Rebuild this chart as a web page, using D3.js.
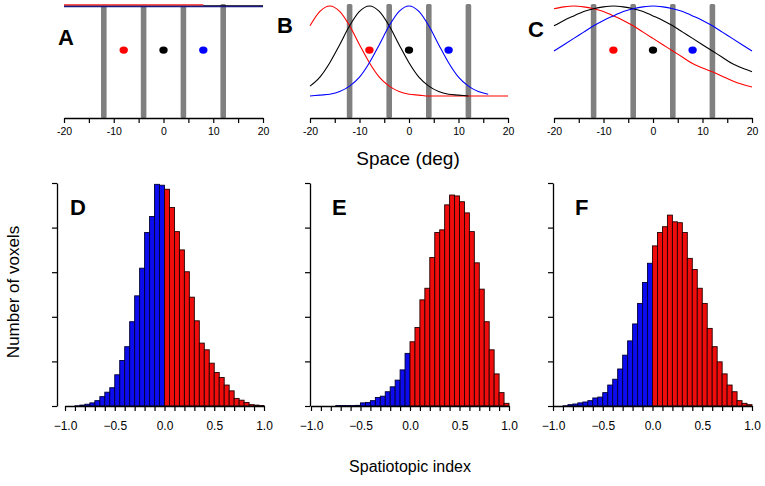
<!DOCTYPE html>
<html><head><meta charset="utf-8">
<script src="https://cdn.jsdelivr.net/npm/d3@7"></script>
<style>body{margin:0;background:#fff}svg{display:block}text{font-family:Arial,"Liberation Sans",sans-serif}</style>
</head><body>
<script>
// ---- data ----
const deg = [-20,-18,-16,-14,-12,-10,-8,-6,-4,-2,0,2,4,6,8,10,12,14,16,18,20];
const redA   = [1.012,1.012,1.012,1.012,1.012,1.012,1.012,1.012,1.012,1.012,1.012,1.012,1.012,1.012,1.012,null,null,null,null,null,null];
const blackA = [1,1,1,1,1,1,1,1,1,1,1,1,1,1,1,1,1,1,1,1,1];
const blueA  = [0.995,0.995,0.995,0.995,0.995,0.995,0.995,0.995,0.995,0.995,0.995,0.995,0.995,0.995,0.995,0.995,0.995,0.995,0.995,0.995,0.995];
const redB   = [0.78,0.94,1,0.94,0.78,0.57,0.37,0.21,0.11,0.05,0.02,0.01,0,0,0,0,0,0,0,0,0];
const blackB = [0.11,0.21,0.37,0.57,0.78,0.94,1,0.94,0.78,0.57,0.37,0.21,0.11,0.05,0.02,0.01,0,null,null,null,null];
const blueB  = [0,0.01,0.02,0.05,0.11,0.21,0.37,0.57,0.78,0.94,1,0.94,0.78,0.57,0.37,0.21,0.11,0.05,0.02,null,null];
const redC   = [0.97,0.99,1,0.99,0.97,0.94,0.89,0.84,0.78,0.71,0.64,0.57,0.50,0.43,0.36,0.31,0.27,0.22,0.17,0.13,0.10];
const blackC = [0.78,0.84,0.89,0.94,0.97,0.99,1,0.99,0.97,0.94,0.89,0.84,0.78,0.71,0.64,0.57,0.50,0.43,0.36,0.31,0.27];
const blueC  = [0.50,0.57,0.64,0.71,0.78,0.84,0.89,0.94,0.97,0.99,1,0.99,0.97,0.94,0.89,0.84,0.78,0.71,0.64,0.57,0.50];
const stimDeg = [-12,-4,4,12];
const dotDeg = [-8,0,8];
const dotLevel = 0.51;
const dotColors = ["#ff0000","#000000","#0000ff"];
const degTicks = [-20,-15,-10,-5,0,5,10,15,20];
const degLabels = [-20,-10,0,10,20];

const binEdges = d3.range(0,41).map(i => +(-1 + i*0.05).toFixed(2));
const histD = [0,0,0.005,0.02,0.04,0.07,0.12,0.21,0.31,0.41,0.70,1.02,1.33,1.89,2.47,3.09,3.89,4.25,4.97,4.95,
               4.86,4.45,3.91,3.50,3.01,2.44,1.91,1.41,1.26,0.96,0.75,0.64,0.47,0.34,0.17,0.13,0.08,0.03,0.02,0.01];
const histE = [0,0,0,0,0,0.01,0.01,0.01,0.01,0.015,0.07,0.08,0.12,0.19,0.22,0.32,0.43,0.58,0.81,1.18,
               1.44,1.76,2.38,2.64,3.33,3.89,3.95,4.51,4.73,4.71,4.58,4.33,3.91,3.21,2.62,1.89,1.26,0.72,0.30,0.06];
const histF = [0,0,0.005,0.03,0.045,0.07,0.09,0.12,0.18,0.20,0.30,0.47,0.60,0.83,1.14,1.46,1.84,2.30,2.77,3.20,
               3.59,3.89,4.02,4.28,4.13,4.11,3.89,3.31,3.06,2.64,2.30,1.74,1.33,0.99,0.72,0.47,0.32,0.12,0.06,0.03];
const idxTicks = d3.range(0,21).map(i => +(-1 + i*0.1).toFixed(1));
const idxLabels = [-1.0,-0.5,0.0,0.5,1.0];
const countTicks = [0,1,2,3,4,5];

// ---- drawing ----
const svg = d3.select("body").append("svg").attr("width",765).attr("height",486);
const FONT = 'Arial,"Liberation Sans",sans-serif';

const yCurve = d3.scaleLinear().domain([0,1]).range([96,6]);
const topAxisY = 118;

function topPanel(x0, x1, series, letter, lx, ly) {
  const x = d3.scaleLinear().domain([-20,20]).range([x0,x1]);
  const g = svg.append("g");
  g.selectAll("rect.stim").data(stimDeg).enter().append("rect")
    .attr("x", d => x(d)-2.8).attr("width",5.6)
    .attr("y",4).attr("height", topAxisY-4)
    .attr("rx",1.5).attr("fill","#808080");
  series.forEach(s => {
    const line = d3.line()
      .defined(d => d[1] !== null)
      .x(d => x(d[0])).y(d => yCurve(d[1]))
      .curve(d3.curveMonotoneX);
    g.append("path").datum(deg.map((d,i)=>[d,s.v[i]]))
      .attr("d",line).attr("fill","none").attr("stroke",s.c).attr("stroke-width",s.w||1.1);
  });
  g.selectAll("ellipse").data(dotDeg).enter().append("ellipse")
    .attr("cx", d => x(d)).attr("cy", yCurve(dotLevel))
    .attr("rx",4.2).attr("ry",3.6).attr("fill",(d,i)=>dotColors[i]);
  const ax = d3.axisBottom(x).tickValues(degTicks).tickSize(5).tickSizeOuter(0).tickPadding(5)
    .tickFormat(d => degLabels.includes(d) ? d : "");
  const ag = g.append("g").attr("transform",`translate(0,${topAxisY})`).call(ax);
  ag.select(".domain").attr("stroke","#000").attr("stroke-width",1.3);
  ag.selectAll(".tick line").attr("stroke","#000").attr("stroke-width",1.2);
  ag.selectAll("text").attr("font-size",10.5).attr("font-family",FONT).attr("fill","#000");
  g.append("text").attr("x",lx).attr("y",ly).text(letter)
    .attr("font-size",22).attr("font-weight","bold").attr("font-family",FONT);
}

topPanel(64,263,[
  {v:blackA,c:"#000",w:1.6},{v:redA,c:"#ff5050",w:1.6},{v:blueA,c:"#1a1a80",w:1.6}
],"A",58,45);
topPanel(310,508,[
  {v:redB,c:"#ff0000"},{v:blackB,c:"#000"},{v:blueB,c:"#0000ff"}
],"B",277,33);
topPanel(554,752,[
  {v:redC,c:"#ff0000"},{v:blackC,c:"#000"},{v:blueC,c:"#0000ff"}
],"C",528,37);

svg.append("text").attr("x",408).attr("y",165).attr("text-anchor","middle")
  .attr("font-size",19).attr("font-family",FONT).text("Space (deg)");

const yHist = d3.scaleLinear().domain([0,5]).range([406,183]);

function histPanel(yAxisX, x0, x1, vals, letter, lx, ly) {
  const x = d3.scaleLinear().domain([-1,1]).range([x0,x1]);
  const g = svg.append("g");
  g.selectAll("rect").data(vals).enter().append("rect")
    .attr("x",(d,i)=>x(binEdges[i])).attr("width",(d,i)=>x(binEdges[i+1])-x(binEdges[i]))
    .attr("y",d=>yHist(d)).attr("height",d=>yHist(0)-yHist(d))
    .attr("fill",(d,i)=> binEdges[i] < 0 ? "#0c0cee" : "#ee0c0c")
    .attr("stroke",(d,i)=> binEdges[i] < 0 ? "#000033" : "#220000")
    .attr("stroke-width",0.9);
  const ax = d3.axisBottom(x).tickValues(idxTicks).tickSize(5).tickSizeOuter(0).tickPadding(10)
    .tickFormat(d => idxLabels.some(v=>Math.abs(v-d)<1e-9) ? d3.format(".1f")(d) : "");
  const ag = g.append("g").attr("transform","translate(0,406)").call(ax);
  ag.select(".domain").attr("stroke","#000").attr("stroke-width",1.3);
  ag.selectAll(".tick line").attr("stroke","#000").attr("stroke-width",1.2);
  ag.selectAll("text").attr("font-size",12).attr("font-family",FONT).attr("fill","#000");
  const ay = d3.axisLeft(yHist).tickValues(countTicks).tickSize(5).tickSizeOuter(0).tickFormat("");
  const yg = g.append("g").attr("transform",`translate(${yAxisX},0)`).call(ay);
  yg.select(".domain").attr("stroke","#000").attr("stroke-width",1.3);
  yg.selectAll(".tick line").attr("stroke","#000").attr("stroke-width",1.2);
  g.append("text").attr("x",lx).attr("y",ly).text(letter)
    .attr("font-size",22).attr("font-weight","bold").attr("font-family",FONT);
}

histPanel(57, 65, 264, histD, "D", 70, 215);
histPanel(310, 311, 509, histE, "E", 332, 215);
histPanel(553, 553, 752, histF, "F", 575, 215);

svg.append("text").attr("transform","translate(19,292) rotate(-90)").attr("text-anchor","middle")
  .attr("font-size",17).attr("font-family",FONT).text("Number of voxels");
svg.append("text").attr("x",410).attr("y",472).attr("text-anchor","middle")
  .attr("font-size",16).attr("font-family",FONT).text("Spatiotopic index");
</script>
</body></html>
